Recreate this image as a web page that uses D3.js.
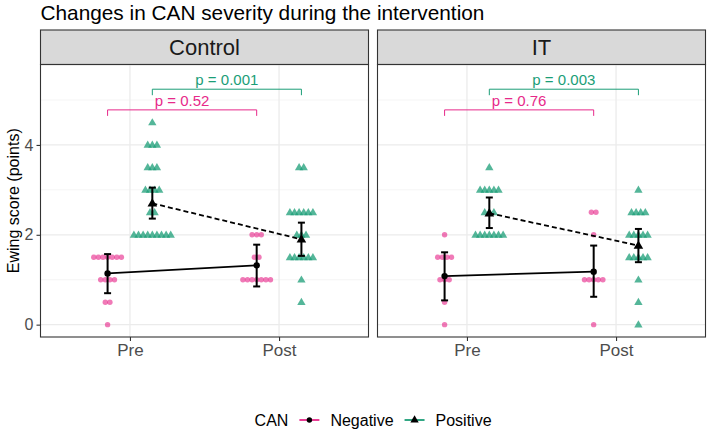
<!DOCTYPE html>
<html>
<head>
<meta charset="utf-8">
<script src="https://cdn.jsdelivr.net/npm/d3@7"></script>
<style>
    body { margin: 0; background: #fff; }
    text { font-family: "Liberation Sans", Arial, sans-serif; }
</style>
</head>
<body>
<div id="chart"></div>
<script>
// facets, x categories, groups
const panels = ["Control", "IT"];
const timepoints = ["Pre", "Post"];
const canGroups = ["Negative", "Positive"];
const groupColors = ["#E7298A", "#1B9E77"];

// individual Ewing scores
const controlPreNeg = [1.5, 1.5, 1.5, 1.5, 1.5, 1.5, 1.5, 1, 1, 1, 1, 0.5, 0.5, 0];
const controlPrePos = [4.5, 4, 4, 4, 3.5, 3.5, 3.5, 3, 3, 3, 3, 2.5, 2.5, 2, 2, 2, 2, 2, 2, 2, 2, 2];
const controlPostNeg = [2, 2, 2, 1.5, 1.5, 1, 1, 1, 1, 1, 1, 1];
const controlPostPos = [3.5, 3.5, 2.5, 2.5, 2.5, 2.5, 2.5, 2.5, 2, 2, 2, 1.5, 1.5, 1.5, 1.5, 1.5, 1.5, 1, 0.5];
const itPreNeg = [2, 1.5, 1.5, 1.5, 1.5, 1, 1, 1, 0.5, 0];
const itPrePos = [3.5, 3, 3, 3, 3, 3, 2.5, 2.5, 2.5, 2, 2, 2, 2, 2, 2, 2];
const itPostNeg = [2.5, 2.5, 2, 1, 1, 1, 1, 1, 0];
const itPostPos = [3, 2.5, 2.5, 2.5, 2.5, 2, 2, 2, 2, 2, 1.5, 1.5, 1.5, 1.5, 1.5, 1, 0.5, 0];

// summaries: [Negative, Positive] x [Pre, Post]
const controlMean = [[1.14, 1.32], [2.70, 1.90]];
const controlLower = [[0.70, 0.85], [2.36, 1.53]];
const controlUpper = [[1.57, 1.78], [3.05, 2.27]];
const itMean = [[1.08, 1.18], [2.48, 1.76]];
const itLower = [[0.54, 0.62], [2.15, 1.39]];
const itUpper = [[1.61, 1.76], [2.83, 2.13]];

// comparison brackets: [Negative, Positive] per panel
const pLabels = [["p = 0.52", "p = 0.001"], ["p = 0.76", "p = 0.003"]];
const bracketLevels = [4.78, 5.24];

const yTicks = [0, 2, 4];
const yMinorTicks = [1, 3, 5];

class FacetDotVis {

    constructor(_parentElement) {
        this.parentElement = _parentElement;
        this.initVis();
    }

    initVis() {
        let vis = this;

        vis.W = 709;
        vis.H = 430;
        vis.left = 40.5;
        vis.panelW = 328;
        vis.gap = 9;
        vis.stripTop = 30;
        vis.stripH = 34.5;
        vis.panelTop = vis.stripTop + vis.stripH;
        vis.panelH = 337 - vis.panelTop;

        vis.svg = d3.select("#" + vis.parentElement).append("svg")
            .attr("width", vis.W)
            .attr("height", vis.H);

        // Scales
        vis.x = d3.scalePoint().domain(timepoints).range([0, vis.panelW]).padding(0.6);
        vis.dodge = vis.x.step() * 0.15;
        vis.y = d3.scaleLinear().domain([-0.275, 5.79]).range([vis.panelH, 0]);

        vis.wrangleData();
    }

    wrangleData() {
        let vis = this;
        let scores = [
            [[controlPreNeg, controlPostNeg], [controlPrePos, controlPostPos]],
            [[itPreNeg, itPostNeg], [itPrePos, itPostPos]]
        ];
        let means = [controlMean, itMean];
        let lows = [controlLower, itLower];
        let highs = [controlUpper, itUpper];

        vis.panelData = panels.map((p, pi) => {
            let points = [];
            let summary = [];
            canGroups.forEach((g, gi) => {
                timepoints.forEach((t, ti) => {
                    // simple swarm: spread equal scores side by side
                    let counts = d3.rollup(scores[pi][gi][ti], v => v.length, d => d);
                    let seen = new Map();
                    scores[pi][gi][ti].forEach(v => {
                        let n = counts.get(v);
                        let k = seen.get(v) || 0;
                        seen.set(v, k + 1);
                        points.push({ group: gi, time: t, value: v, slot: k - (n - 1) / 2 });
                    });
                    summary.push({ group: gi, time: t, mean: means[pi][gi][ti], lo: lows[pi][gi][ti], hi: highs[pi][gi][ti] });
                });
            });
            return { name: p, points: points, summary: summary, pvals: pLabels[pi] };
        });

        vis.updateVis();
    }

    updateVis() {
        let vis = this;
        let spread = 4.6;
        let tri = d3.symbol().type(d3.symbolTriangle);
        let cx = d => vis.x(d.time) + (d.group === 0 ? -vis.dodge : vis.dodge);

        // Title
        vis.svg.append("text")
            .attr("x", vis.left)
            .attr("y", 20)
            .style("font-size", "20.8px")
            .style("fill", "#000")
            .text("Changes in CAN severity during the intervention");

        // Y axis title
        vis.svg.append("text")
            .attr("transform", "translate(19," + (vis.panelTop + vis.panelH / 2) + ") rotate(-90)")
            .style("text-anchor", "middle")
            .style("font-size", "16px")
            .style("fill", "#000")
            .text("Ewing score (points)");

        vis.panelData.forEach((pd, pi) => {
            let px = vis.left + pi * (vis.panelW + vis.gap);

            // strip
            vis.svg.append("rect")
                .attr("x", px).attr("y", vis.stripTop)
                .attr("width", vis.panelW).attr("height", vis.stripH)
                .attr("fill", "#D9D9D9").attr("stroke", "#333").attr("stroke-width", 1.1);
            vis.svg.append("text")
                .attr("x", px + vis.panelW / 2)
                .attr("y", vis.stripTop + vis.stripH / 2 + 8)
                .style("text-anchor", "middle")
                .style("font-size", "22px")
                .style("fill", "#1A1A1A")
                .text(pd.name);

            let g = vis.svg.append("g").attr("transform", "translate(" + px + "," + vis.panelTop + ")");

            // grid
            g.selectAll(".minor").data(yMinorTicks).enter().append("line")
                .attr("x1", 0).attr("x2", vis.panelW)
                .attr("y1", d => vis.y(d)).attr("y2", d => vis.y(d))
                .attr("stroke", "#F2F2F2").attr("stroke-width", 0.8);
            g.selectAll(".major").data(yTicks).enter().append("line")
                .attr("x1", 0).attr("x2", vis.panelW)
                .attr("y1", d => vis.y(d)).attr("y2", d => vis.y(d))
                .attr("stroke", "#EBEBEB").attr("stroke-width", 1.3);
            g.selectAll(".xgrid").data(timepoints).enter().append("line")
                .attr("x1", d => vis.x(d)).attr("x2", d => vis.x(d))
                .attr("y1", 0).attr("y2", vis.panelH)
                .attr("stroke", "#EBEBEB").attr("stroke-width", 1.3);

            // dots
            g.selectAll(".neg").data(pd.points.filter(d => d.group === 0)).enter().append("circle")
                .attr("cx", d => cx(d) + d.slot * spread)
                .attr("cy", d => vis.y(d.value))
                .attr("r", 2.7)
                .attr("fill", groupColors[0])
                .attr("fill-opacity", 0.62);
            g.selectAll(".pos").data(pd.points.filter(d => d.group === 1)).enter().append("path")
                .attr("d", tri.size(30))
                .attr("transform", d => "translate(" + (cx(d) + d.slot * spread) + "," + (vis.y(d.value) + 0.5) + ")")
                .attr("fill", groupColors[1])
                .attr("fill-opacity", 0.75);

            // mean lines
            canGroups.forEach((cg, gi) => {
                let s = pd.summary.filter(d => d.group === gi);
                g.append("path")
                    .datum(s)
                    .attr("d", d3.line().x(d => cx(d)).y(d => vis.y(d.mean)))
                    .attr("fill", "none")
                    .attr("stroke", "#000")
                    .attr("stroke-width", 1.8)
                    .attr("stroke-dasharray", gi === 1 ? "5,3" : null);
            });

            // error bars
            let eb = g.selectAll(".eb").data(pd.summary).enter().append("g");
            eb.append("line")
                .attr("x1", cx).attr("x2", cx)
                .attr("y1", d => vis.y(d.lo)).attr("y2", d => vis.y(d.hi))
                .attr("stroke", "#000").attr("stroke-width", 2);
            eb.append("line")
                .attr("x1", d => cx(d) - 3.5).attr("x2", d => cx(d) + 3.5)
                .attr("y1", d => vis.y(d.lo)).attr("y2", d => vis.y(d.lo))
                .attr("stroke", "#000").attr("stroke-width", 2);
            eb.append("line")
                .attr("x1", d => cx(d) - 3.5).attr("x2", d => cx(d) + 3.5)
                .attr("y1", d => vis.y(d.hi)).attr("y2", d => vis.y(d.hi))
                .attr("stroke", "#000").attr("stroke-width", 2);
            eb.filter(d => d.group === 0).append("circle")
                .attr("cx", cx).attr("cy", d => vis.y(d.mean)).attr("r", 3.2).attr("fill", "#000");
            eb.filter(d => d.group === 1).append("path")
                .attr("d", tri.size(40))
                .attr("transform", d => "translate(" + cx(d) + "," + (vis.y(d.mean) + 0.5) + ")")
                .attr("fill", "#000");

            // p-value brackets
            canGroups.forEach((cg, gi) => {
                let xa = vis.x("Pre") + (gi === 0 ? -vis.dodge : vis.dodge);
                let xb = vis.x("Post") + (gi === 0 ? -vis.dodge : vis.dodge);
                let yb = vis.y(bracketLevels[gi]);
                g.append("path")
                    .attr("d", "M" + xa + "," + (yb + 6) + "V" + yb + "H" + xb + "V" + (yb + 6))
                    .attr("fill", "none")
                    .attr("stroke", groupColors[gi])
                    .attr("stroke-width", 1);
                g.append("text")
                    .attr("x", (xa + xb) / 2)
                    .attr("y", yb - 4)
                    .style("text-anchor", "middle")
                    .style("font-size", "15px")
                    .style("fill", groupColors[gi])
                    .text(pd.pvals[gi]);
            });

            // border
            g.append("rect")
                .attr("width", vis.panelW).attr("height", vis.panelH)
                .attr("fill", "none").attr("stroke", "#333").attr("stroke-width", 1.1);

            // x axis
            let xAxis = d3.axisBottom(vis.x).tickSize(4).tickPadding(3);
            let xg = g.append("g").attr("transform", "translate(0," + vis.panelH + ")").call(xAxis);
            xg.select(".domain").remove();
            xg.selectAll("line").attr("stroke", "#333").attr("stroke-width", 1.1);
            xg.selectAll("text").style("font-size", "17px").style("fill", "#4D4D4D")
                .style("font-family", "Liberation Sans, Arial, sans-serif");

            if (pi === 0) {
                let yAxis = d3.axisLeft(vis.y).tickValues(yTicks).tickFormat(d3.format("d"))
                    .tickSize(4).tickPadding(3);
                let yg = g.append("g").call(yAxis);
                yg.select(".domain").remove();
                yg.selectAll("line").attr("stroke", "#333").attr("stroke-width", 1.1);
                yg.selectAll("text").style("font-size", "16px").style("fill", "#4D4D4D")
                    .style("font-family", "Liberation Sans, Arial, sans-serif");
            }
        });

        // Legend
        let leg = vis.svg.append("g").attr("transform", "translate(0,420)");
        let lx = 0;
        let title = leg.append("text").attr("x", lx).attr("y", 5.5)
            .style("font-size", "16px").text("CAN");
        lx += title.node().getComputedTextLength() + 11;
        canGroups.forEach((cg, gi) => {
            let k = leg.append("g").attr("transform", "translate(" + lx + ",0)");
            k.append("line").attr("x1", 0).attr("x2", 20).attr("y1", 0).attr("y2", 0)
                .attr("stroke", groupColors[gi]).attr("stroke-width", 1.8);
            k.append("line").attr("x1", 10).attr("x2", 10).attr("y1", -2).attr("y2", 2)
                .attr("stroke", "#000").attr("stroke-width", 1.5);
            if (gi === 0) {
                k.append("circle").attr("cx", 10).attr("cy", 0).attr("r", 2.7).attr("fill", "#000");
            } else {
                k.append("path").attr("d", tri.size(30)).attr("transform", "translate(10,0)").attr("fill", "#000");
            }
            let t = leg.append("text").attr("x", lx + 31).attr("y", 5.5)
                .style("font-size", "16px").text(cg);
            lx += 31 + t.node().getComputedTextLength() + 11;
        });
        let legW = lx - 11;
        leg.attr("transform", "translate(" + ((vis.left + vis.W - 3.3) / 2 - legW / 2) + ",420)");
    }
}

new FacetDotVis("chart");
</script>
</body>
</html>
